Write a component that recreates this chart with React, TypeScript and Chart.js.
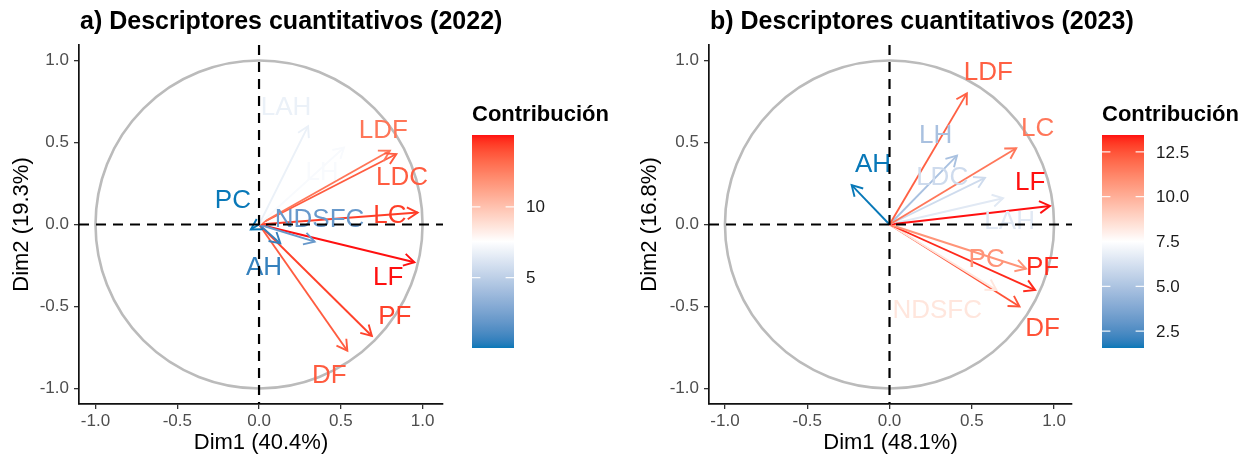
import React, { useEffect, useRef } from "react";
import { Chart, registerables } from "chart.js";
Chart.register(...registerables);

// ---------------- data ----------------
const axisTicks = [-1, -0.5, 0, 0.5, 1];

// 2022
const vars2022 = ["LAH", "LH", "LDF", "LDC", "LC", "PC", "NDSFC", "AH", "LF", "PF", "DF"];
const dim1_2022 = [0.30, 0.52, 0.80, 0.84, 0.97, -0.05, 0.34, 0.13, 0.95, 0.69, 0.54];
const dim2_2022 = [0.60, 0.47, 0.45, 0.43, 0.073, -0.03, -0.105, -0.115, -0.23, -0.68, -0.77];
const contrib2022 = [6.8, 7.3, 12.8, 13.6, 14.4, 0.03, 2.0, 0.6, 15.07, 14.3, 13.6];
const labelX2022 = [0.165, 0.385, 0.76, 0.875, 0.80, -0.16, 0.37, 0.03, 0.79, 0.83, 0.43];
const labelY2022 = [0.72, 0.32, 0.58, 0.29, 0.06, 0.15, 0.035, -0.26, -0.32, -0.56, -0.915];
const legendTicks2022 = [5, 10];
const legendTickLabels2022 = ["5", "10"];

// 2023
const vars2023 = ["LDF", "LC", "LH", "LDC", "AH", "LF", "LAH", "PC", "PF", "NDSFC", "DF"];
const dim1_2023 = [0.47, 0.77, 0.41, 0.58, -0.23, 0.975, 0.69, 0.83, 0.885, 0.65, 0.79];
const dim2_2023 = [0.80, 0.465, 0.42, 0.285, 0.24, 0.113, 0.16, -0.27, -0.40, -0.40, -0.50];
const contrib2023 = [12.2, 11.6, 4.9, 6.0, 1.56, 13.44, 6.6, 10.8, 13.2, 8.3, 12.5];
const labelX2023 = [0.60, 0.90, 0.28, 0.32, -0.10, 0.855, 0.73, 0.59, 0.93, 0.29, 0.93];
const labelY2023 = [0.93, 0.59, 0.55, 0.29, 0.37, 0.26, 0.02, -0.21, -0.26, -0.52, -0.63];
const legendTicks2023 = [2.5, 5, 7.5, 10, 12.5];
const legendTickLabels2023 = ["2.5", "5.0", "7.5", "10.0", "12.5"];

// ---------------- styles ----------------
const FONT = "'Liberation Sans', Arial, Helvetica, sans-serif";
const gradientCols = ["#0878B8", "#FFFFFF", "#FF1010"];

// ---------------- colour ramp (CIELAB interpolation, like ggplot) ----------------
function hexToRgb(h: string) {
  const n = parseInt(h.slice(1), 16);
  return [(n >> 16) & 255, (n >> 8) & 255, n & 255];
}
function toLin(c: number) {
  c /= 255;
  return c <= 0.04045 ? c / 12.92 : Math.pow((c + 0.055) / 1.055, 2.4);
}
function fromLin(c: number) {
  const v = c <= 0.0031308 ? 12.92 * c : 1.055 * Math.pow(Math.max(c, 0), 1 / 2.4) - 0.055;
  return Math.round(Math.max(0, Math.min(1, v)) * 255);
}
function rgbToLab(rgb: number[]) {
  const R = toLin(rgb[0]), G = toLin(rgb[1]), B = toLin(rgb[2]);
  const X = (0.4124 * R + 0.3576 * G + 0.1805 * B) / 0.95047;
  const Y = 0.2126 * R + 0.7152 * G + 0.0722 * B;
  const Z = (0.0193 * R + 0.1192 * G + 0.9505 * B) / 1.08883;
  const f = (t: number) => (t > 0.008856 ? Math.cbrt(t) : 7.787 * t + 16 / 116);
  const fx = f(X), fy = f(Y), fz = f(Z);
  return [116 * fy - 16, 500 * (fx - fy), 200 * (fy - fz)];
}
function labToCss(lab: number[]) {
  const fy = (lab[0] + 16) / 116, fx = fy + lab[1] / 500, fz = fy - lab[2] / 200;
  const finv = (t: number) => (t * t * t > 0.008856 ? t * t * t : (t - 16 / 116) / 7.787);
  const X = finv(fx) * 0.95047, Y = finv(fy), Z = finv(fz) * 1.08883;
  const R = 3.2406 * X - 1.5372 * Y - 0.4986 * Z;
  const G = -0.9689 * X + 1.8758 * Y + 0.0415 * Z;
  const B = 0.0557 * X - 0.204 * Y + 1.057 * Z;
  return `rgb(${fromLin(R)},${fromLin(G)},${fromLin(B)})`;
}
const labCols = gradientCols.map((c) => rgbToLab(hexToRgb(c)));
function ramp(t: number) {
  t = Math.max(0, Math.min(1, t));
  const seg = t < 0.5 ? 0 : 1;
  const u = seg === 0 ? t / 0.5 : (t - 0.5) / 0.5;
  const a = labCols[seg], b = labCols[seg + 1];
  return labToCss([a[0] + (b[0] - a[0]) * u, a[1] + (b[1] - a[1]) * u, a[2] + (b[2] - a[2]) * u]);
}

type Panel = {
  key: string;
  title: string;
  xTitle: string;
  yTitle: string;
  names: string[];
  d1: number[];
  d2: number[];
  contrib: number[];
  lx: number[];
  ly: number[];
  lt: number[];
  ltl: string[];
  left: number;
  width: number;
  padRight: number;
  xMin: number;
  xMax: number;
  yTitlePad: number;
};

const panels: Panel[] = [
  {
    key: "a",
    title: "a) Descriptores cuantitativos (2022)",
    xTitle: "Dim1 (40.4%)",
    yTitle: "Dim2 (19.3%)",
    names: vars2022, d1: dim1_2022, d2: dim2_2022, contrib: contrib2022,
    lx: labelX2022, ly: labelY2022, lt: legendTicks2022, ltl: legendTickLabels2022,
    left: 0, width: 630, padRight: 187, xMin: -1.101, xMax: 1.125, yTitlePad: 8.8,
  },
  {
    key: "b",
    title: "b) Descriptores cuantitativos (2023)",
    xTitle: "Dim1 (48.1%)",
    yTitle: "Dim2 (16.8%)",
    names: vars2023, d1: dim1_2023, d2: dim2_2023, contrib: contrib2023,
    lx: labelX2023, ly: labelY2023, lt: legendTicks2023, ltl: legendTickLabels2023,
    left: 630, width: 620, padRight: 178, xMin: -1.097, xMax: 1.109, yTitlePad: 6.8,
  },
];

function makePlugin(p: Panel, cmin: number, cmax: number, colors: string[]) {
  return {
    id: "pca-" + p.key,
    beforeDatasetsDraw(chart: any) {
      const { ctx, scales } = chart;
      const x = scales.x, y = scales.y;
      const cx = x.getPixelForValue(0), cy = y.getPixelForValue(0);
      const rx = x.getPixelForValue(1) - cx, ry = cy - y.getPixelForValue(1);
      ctx.save();
      ctx.strokeStyle = "#BBBBBB";
      ctx.lineWidth = 2.6;
      ctx.beginPath();
      ctx.ellipse(cx, cy, rx, ry, 0, 0, Math.PI * 2);
      ctx.stroke();
      ctx.restore();
    },
    afterDatasetsDraw(chart: any) {
      const { ctx, scales, chartArea } = chart;
      const x = scales.x, y = scales.y;
      ctx.save();
      // arrow heads
      chart.data.datasets.forEach((ds: any, i: number) => {
        const meta = chart.getDatasetMeta(i);
        const a = meta.data[0], b = meta.data[1];
        const ang = Math.atan2(b.y - a.y, b.x - a.x);
        const L = 12, sp = Math.PI / 6;
        ctx.strokeStyle = ds.borderColor;
        ctx.lineWidth = 1.9;
        ctx.beginPath();
        ctx.moveTo(b.x - L * Math.cos(ang - sp), b.y - L * Math.sin(ang - sp));
        ctx.lineTo(b.x, b.y);
        ctx.lineTo(b.x - L * Math.cos(ang + sp), b.y - L * Math.sin(ang + sp));
        ctx.stroke();
      });
      // labels
      ctx.font = `26px ${FONT}`;
      ctx.textAlign = "center";
      ctx.textBaseline = "middle";
      p.names.forEach((n, i) => {
        ctx.fillStyle = colors[i];
        ctx.fillText(n, x.getPixelForValue(p.lx[i]), y.getPixelForValue(p.ly[i]) + 1);
      });
      // dashed reference lines
      ctx.strokeStyle = "#000";
      ctx.lineWidth = 2.2;
      ctx.setLineDash([10, 7]);
      const y0 = y.getPixelForValue(0), x0 = x.getPixelForValue(0);
      ctx.beginPath();
      ctx.moveTo(chartArea.left, y0);
      ctx.lineTo(chartArea.right, y0);
      ctx.moveTo(x0, chartArea.top);
      ctx.lineTo(x0, chartArea.bottom);
      ctx.stroke();
      ctx.restore();
    },
    afterDraw(chart: any) {
      const { ctx, chartArea } = chart;
      ctx.save();
      // title
      ctx.fillStyle = "#000";
      ctx.font = `bold 25px ${FONT}`;
      ctx.textAlign = "left";
      ctx.textBaseline = "alphabetic";
      ctx.fillText(p.title, chartArea.left + 1, 29);
      // colour bar legend
      const bx = 472, by = 135, bw = 42, bh = 213;
      ctx.font = `bold 22px ${FONT}`;
      ctx.fillText("Contribución", bx, 121);
      const g = ctx.createLinearGradient(0, by + bh, 0, by);
      for (let k = 0; k <= 60; k++) g.addColorStop(k / 60, ramp(k / 60));
      ctx.fillStyle = g;
      ctx.fillRect(bx, by, bw, bh);
      ctx.font = `17px ${FONT}`;
      ctx.textBaseline = "middle";
      p.lt.forEach((v, i) => {
        const yy = by + bh - ((v - cmin) / (cmax - cmin)) * bh;
        ctx.strokeStyle = "rgba(255,255,255,0.9)";
        ctx.lineWidth = 1.2;
        ctx.beginPath();
        ctx.moveTo(bx, yy);
        ctx.lineTo(bx + bw * 0.2, yy);
        ctx.moveTo(bx + bw * 0.8, yy);
        ctx.lineTo(bx + bw, yy);
        ctx.stroke();
        ctx.fillStyle = "#1A1A1A";
        ctx.fillText(p.ltl[i], bx + bw + 12, yy + 1);
      });
      ctx.restore();
    },
  };
}

function PcaPanel({ p }: { p: Panel }) {
  const ref = useRef<HTMLCanvasElement>(null);
  useEffect(() => {
    const cmin = Math.min(...p.contrib), cmax = Math.max(...p.contrib);
    const colors = p.contrib.map((c) => ramp((c - cmin) / (cmax - cmin)));
    const datasets = p.names.map((n, i) => ({
      label: n,
      data: [{ x: 0, y: 0 }, { x: p.d1[i], y: p.d2[i] }],
      showLine: true,
      borderColor: colors[i],
      backgroundColor: colors[i],
      borderWidth: 1.9,
      pointRadius: 0,
      fill: false,
    }));
    const fmt = (v: number) => v.toFixed(1);
    const chart = new Chart(ref.current as HTMLCanvasElement, {
      type: "scatter",
      data: { datasets },
      plugins: [makePlugin(p, cmin, cmax, colors)],
      options: {
        responsive: false,
        animation: false,
        layout: { padding: { left: 0, right: p.padRight, top: 45, bottom: 0 } },
        plugins: { legend: { display: false }, tooltip: { enabled: false }, title: { display: false } },
        scales: {
          x: {
            type: "linear",
            position: "bottom",
            min: p.xMin,
            max: p.xMax,
            grid: { display: true, drawOnChartArea: false, drawTicks: true, tickLength: 5, color: "#333", lineWidth: 1.3 },
            border: { display: true, color: "#111", width: 1.7 },
            ticks: { color: "#4D4D4D", font: { size: 17, family: FONT }, padding: 2, maxRotation: 0, autoSkip: false, callback: (v: any) => fmt(Number(v)) },
            title: { display: true, text: p.xTitle, color: "#000", font: { size: 22, family: FONT }, padding: { top: 0, bottom: 8 } },
            afterBuildTicks: (s: any) => { s.ticks = axisTicks.map((v) => ({ value: v })); },
            afterFit: (s: any) => { s.height = 60; },
          },
          y: {
            type: "linear",
            position: "left",
            min: -1.095,
            max: 1.095,
            grid: { display: true, drawOnChartArea: false, drawTicks: true, tickLength: 5, color: "#333", lineWidth: 1.3 },
            border: { display: true, color: "#111", width: 1.7 },
            ticks: { color: "#4D4D4D", font: { size: 17, family: FONT }, padding: 5, autoSkip: false, callback: (v: any) => fmt(Number(v)) },
            title: { display: true, text: p.yTitle, color: "#000", font: { size: 22, family: FONT }, padding: { top: p.yTitlePad, bottom: 0 } },
            afterBuildTicks: (s: any) => { s.ticks = axisTicks.map((v) => ({ value: v })); },
            afterFit: (s: any) => { s.width = 79; },
          },
        },
      } as any,
    });
    return () => chart.destroy();
  }, [p]);
  return (
    <canvas
      ref={ref}
      width={p.width}
      height={464}
      style={{ position: "absolute", left: p.left, top: 0, width: p.width, height: 464 }}
    />
  );
}

export default function App() {
  return (
    <div style={{ position: "fixed", left: 0, top: 0, width: 1250, height: 464, background: "#fff", overflow: "hidden" }}>
      {panels.map((p) => (
        <PcaPanel key={p.key} p={p} />
      ))}
    </div>
  );
}
